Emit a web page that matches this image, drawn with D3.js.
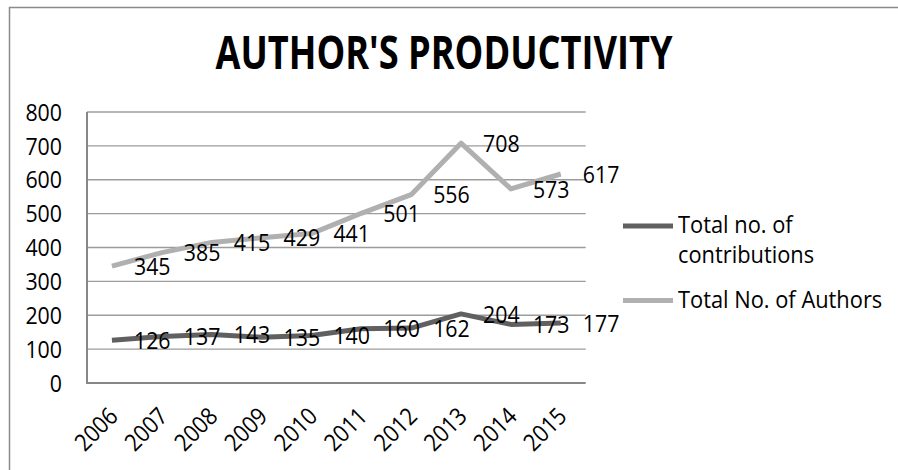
<!DOCTYPE html>
<html>
<head>
<meta charset="utf-8">
<script src="https://cdn.jsdelivr.net/npm/d3@7"></script>
<style>
  html, body { margin: 0; padding: 0; background: #fff; }
  svg { display: block; }
  text { font-family: "Open Sans", "Noto Sans", "Liberation Sans", sans-serif; fill: #000; }
</style>
</head>
<body>
<svg id="chart" width="898" height="470"></svg>
<script>
const years = ["2006","2007","2008","2009","2010","2011","2012","2013","2014","2015"];
const contributions = [126, 137, 143, 135, 140, 160, 162, 204, 173, 177];
const authors = [345, 385, 415, 429, 441, 501, 556, 708, 573, 617];
const yTicks = [0, 100, 200, 300, 400, 500, 600, 700, 800];
const legendLines = [["Total no. of", "contributions"], ["Total No. of Authors"]];
const seriesColors = ["#606060", "#b0b0b0"];
const titleText = "AUTHOR'S PRODUCTIVITY";

const svg = d3.select("#chart");
const plot = { left: 87, right: 585.7, top: 112, bottom: 383 };
const fs = 24;
const sqNum = 0.89;
const sqLegend = 0.91;

// outer chart border (extends beyond the picture on right/bottom)
svg.append("rect").attr("x", 9.5).attr("y", 7.5).attr("width", 1200).attr("height", 1200)
  .attr("fill", "none").attr("stroke", "#8a8a8a").attr("stroke-width", 1.5);

// title
svg.append("text").attr("x", 444).attr("y", 69).attr("text-anchor", "middle")
  .attr("font-size", 47).attr("font-weight", "bold")
  .attr("textLength", 457).attr("lengthAdjust", "spacingAndGlyphs")
  .text(titleText);

const x = d3.scaleBand().domain(years).range([plot.left, plot.right]);
const y = d3.scaleLinear().domain([0, 800]).range([plot.bottom, plot.top]);
const cx = d => x(d) + x.bandwidth() / 2;

// gridlines
svg.append("g").selectAll("line").data(yTicks.filter(d => d > 0)).join("line")
  .attr("x1", plot.left).attr("x2", plot.right)
  .attr("y1", d => y(d)).attr("y2", d => y(d))
  .attr("stroke", "#9c9c9c").attr("stroke-width", 1.3);

// axes lines
svg.append("line").attr("x1", plot.left).attr("x2", plot.left).attr("y1", plot.top).attr("y2", plot.bottom)
  .attr("stroke", "#878787").attr("stroke-width", 2);
svg.append("line").attr("x1", plot.left - 1).attr("x2", plot.right).attr("y1", plot.bottom).attr("y2", plot.bottom)
  .attr("stroke", "#878787").attr("stroke-width", 2);

// y tick labels
svg.append("g").selectAll("text").data(yTicks).join("text")
  .attr("transform", d => `translate(62,${y(d)}) scale(${sqNum},1)`)
  .attr("dy", "0.36em")
  .attr("text-anchor", "end").attr("font-size", fs)
  .text(d => d);

// x tick labels rotated
svg.append("g").selectAll("text").data(years).join("text")
  .attr("transform", d => `translate(${cx(d) - 16},429) rotate(-45) scale(${sqNum},1)`)
  .attr("text-anchor", "middle").attr("dy", "0.36em").attr("font-size", fs)
  .text(d => d);

// lines
const line = d3.line().x((d, i) => cx(years[i])).y(d => y(d));
[contributions, authors].forEach((vals, k) => {
  svg.append("path").datum(vals).attr("d", line)
    .attr("fill", "none").attr("stroke", seriesColors[k]).attr("stroke-width", 5)
    .attr("stroke-linejoin", "round");
});

// data labels (right of point)
[contributions, authors].forEach((vals) => {
  svg.append("g").selectAll("text").data(vals).join("text")
    .attr("transform", (d, i) => `translate(${cx(years[i]) + 22},${y(d)}) scale(${sqNum},1)`)
    .attr("dy", "0.36em")
    .attr("font-size", fs)
    .text(d => d);
});

// legend
const lg = svg.append("g");
const legendY = [226, 300.5];
const legendBase = [[232.5, 263], [307.5]];
legendY.forEach((ly, k) => {
  lg.append("line").attr("x1", 623).attr("x2", 673).attr("y1", ly).attr("y2", ly)
    .attr("stroke", seriesColors[k]).attr("stroke-width", 5);
  legendLines[k].forEach((t, j) => {
    lg.append("text")
      .attr("transform", `translate(678,${legendBase[k][j]}) scale(${sqLegend},1)`)
      .attr("font-size", fs).text(t);
  });
});
</script>
</body>
</html>
